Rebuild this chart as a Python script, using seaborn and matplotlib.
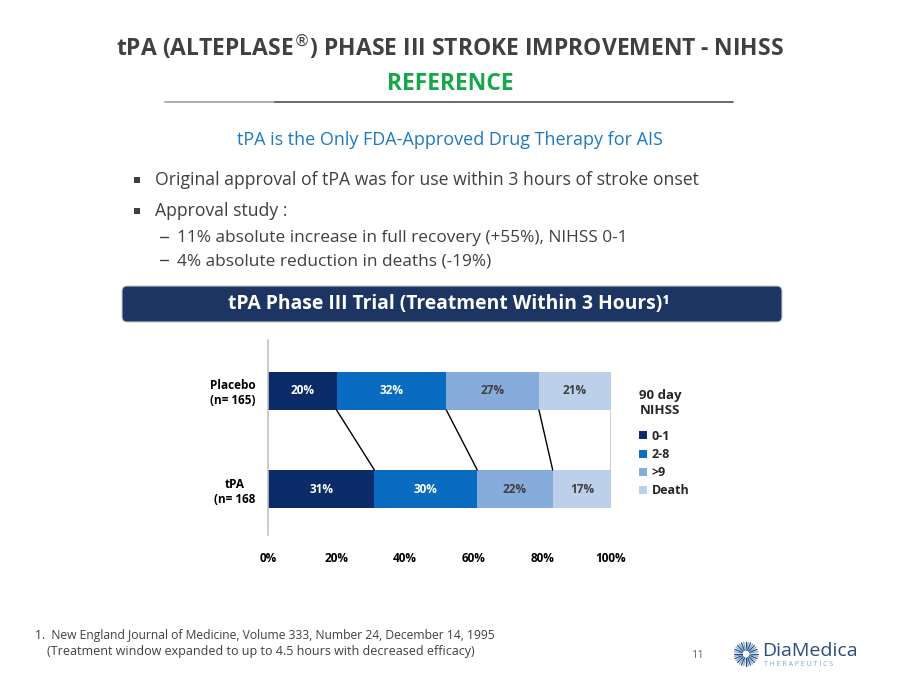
import numpy as np
import pandas as pd
import matplotlib
matplotlib.use("Agg")
import matplotlib.pyplot as plt
from matplotlib.patches import FancyBboxPatch, Patch, Rectangle
import seaborn as sns

# data
groups = ["Placebo\n(n= 165)", "tPA\n(n= 168"]
categories = ["0-1", "2-8", ">9", "Death"]
placebo = [20, 32, 27, 21]
tpa = [31, 30, 22, 17]
ticks = [0, 20, 40, 60, 80, 100]
tick_labels = ["0%", "20%", "40%", "60%", "80%", "100%"]

colors = ["#0c2c69", "#0a6cc0", "#86acdc", "#bdd0ea"]
text_colors = ["white", "white", "#404040", "#404040"]

sns.set_theme(style="white")
plt.rcParams["font.family"] = ["Open Sans", "DejaVu Sans"]

df = pd.DataFrame({"group": np.repeat(groups, len(categories)),
                   "category": categories * len(groups),
                   "value": placebo + tpa})
df["cum"] = df.groupby("group", sort=False)["value"].cumsum()
df["start"] = df["cum"] - df["value"]

fig = plt.figure(figsize=(9, 6.77), dpi=100)

# background axes in pixel coordinates for slide decoration
bg = fig.add_axes([0, 0, 1, 1], zorder=0)
bg.set_xlim(0, 900)
bg.set_ylim(677, 0)
bg.axis("off")

dark = "#404040"
bg.text(450, 48, "tPA (ALTEPLASE$^{®}$) PHASE III STROKE IMPROVEMENT - NIHSS",
        ha="center", va="center", fontsize=16.5, fontweight="bold", color=dark)
bg.text(450, 84, "REFERENCE", ha="center", va="center", fontsize=16.5,
        fontweight="bold", color="#18a64a")
bg.plot([165, 275], [102, 102], color="#a0a0a0", lw=1.2)
bg.plot([275, 733], [102, 102], color="#505050", lw=1.2)

bg.text(450, 140, "tPA is the Only FDA-Approved Drug Therapy for AIS",
        ha="center", va="center", fontsize=13, color="#1f78c1")
for yy in (180, 211):
    bg.add_patch(Rectangle((134, yy - 3), 6, 6, facecolor=dark, edgecolor="none"))
bg.text(155, 180, "Original approval of tPA was for use within 3 hours of stroke onset",
        ha="left", va="center", fontsize=12.7, color=dark)
bg.text(155, 211, "Approval study :", ha="left", va="center", fontsize=12.7, color=dark)
for yy in (238, 261):
    bg.plot([160, 168], [yy - 1, yy - 1], color=dark, lw=1)
bg.text(177, 238, "11% absolute increase in full recovery (+55%), NIHSS 0-1",
        ha="left", va="center", fontsize=12.4, color=dark)
bg.text(177, 261, "4% absolute reduction in deaths (-19%)",
        ha="left", va="center", fontsize=12.4, color=dark)

bg.add_patch(FancyBboxPatch((122, 286), 660, 36,
                            boxstyle="round,pad=0,rounding_size=5",
                            facecolor="#1c3563", edgecolor="#c8c8c8", lw=0.8))
bg.text(449, 304, "tPA Phase III Trial (Treatment Within 3 Hours)¹",
        ha="center", va="center", fontsize=13.9, fontweight="bold", color="white")

bg.text(35, 636, "1.  New England Journal of Medicine, Volume 333, Number 24, December 14, 1995",
        ha="left", va="center", fontsize=8.7, color=dark)
bg.text(47, 652, "(Treatment window expanded to up to 4.5 hours with decreased efficacy)",
        ha="left", va="center", fontsize=9.0, color=dark)
bg.text(697, 655, "11", ha="center", va="center", fontsize=8, color="#707070")

# logo
ang = np.linspace(0, 2 * np.pi, 32, endpoint=False)
for k, a in enumerate(ang):
    c = "#2b4c7e" if k % 2 == 0 else "#7fa6cf"
    bg.plot([746 + 4 * np.cos(a), 746 + 12 * np.cos(a)],
            [654 + 4 * np.sin(a), 654 + 12 * np.sin(a)], color=c, lw=0.9)
bg.text(762, 651, "DiaMedica", ha="left", va="center", fontsize=14, color="#2b4c7e")
bg.text(764, 665, "T H E R A P E U T I C S", ha="left", va="center",
        fontsize=5, color="#7fa6cf")

# chart
ax = fig.add_axes([268 / 900, 1 - 540 / 677, 343 / 900, 200 / 677], zorder=1)
ax.patch.set_alpha(0)
bar_h = 0.39
for cat, col in reversed(list(zip(categories, colors))):
    sub = df[df["category"] == cat]
    sns.barplot(data=sub, x="cum", y="group", order=groups, color=col,
                saturation=1, width=bar_h, linewidth=0, orient="h", ax=ax)

for i, (cat, tc) in enumerate(zip(categories, text_colors)):
    sub = df[df["category"] == cat]
    for j, g in enumerate(groups):
        row = sub[sub["group"] == g].iloc[0]
        ax.text(row["start"] + row["value"] / 2, j, f"{row['value']}%",
                ha="center", va="center", fontsize=8.5, fontweight="bold", color=tc)

# connector lines between cumulative boundaries
cum_p = np.cumsum(placebo)
cum_t = np.cumsum(tpa)
for a, b in zip(cum_p, cum_t):
    ax.plot([a, b], [0 + bar_h / 2, 1 - bar_h / 2], color="black", lw=1)

ax.set_xlim(0, 100)
ax.set_ylim(1.52, -0.52)
ax.set_xticks(ticks)
ax.set_xticklabels(tick_labels, fontsize=8.5, fontweight="bold", color="black")
ax.set_yticks(range(len(groups)))
ax.set_yticklabels(groups, fontsize=8.5, fontweight="bold", color="black",
                   multialignment="center")
ax.tick_params(axis="x", length=0, pad=9)
ax.tick_params(axis="y", length=0, pad=9)
ax.set_xlabel("")
ax.set_ylabel("")
for s in ["top", "right", "bottom"]:
    ax.spines[s].set_visible(False)
ax.spines["left"].set_color("#c4c4c4")
ax.spines["left"].set_linewidth(1.2)
ax.spines["left"].set_bounds(1.47, -0.52)

handles = [Patch(facecolor=c, edgecolor="none") for c in colors]
leg = ax.legend(handles, categories, title="90 day\nNIHSS", loc="upper left",
                bbox_to_anchor=(1.05, 0.81), frameon=False, handlelength=0.6,
                handleheight=0.6, handletextpad=0.4, labelspacing=0.42,
                prop={"weight": "bold", "size": 9}, alignment="left")
leg.get_title().set_fontweight("bold")
leg.get_title().set_fontsize(9.5)
leg._legend_box.sep = 9

fig.savefig("out.png", dpi=100)
